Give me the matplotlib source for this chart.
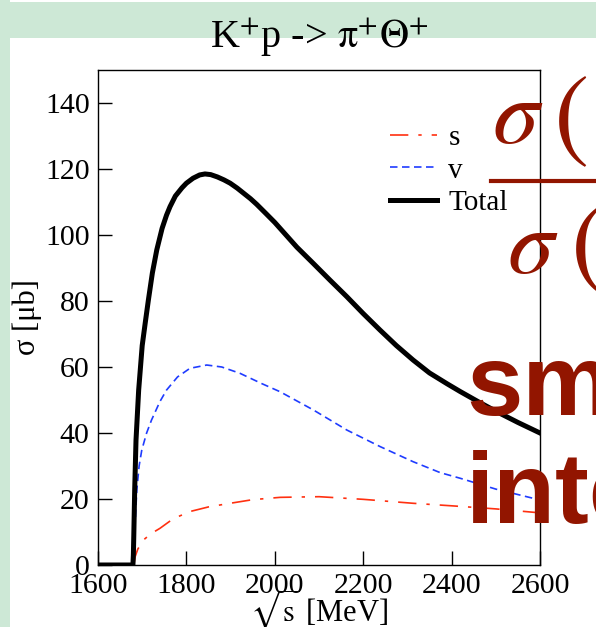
import matplotlib
matplotlib.use('Agg')
import matplotlib.pyplot as plt
from matplotlib.patches import Rectangle
from matplotlib.lines import Line2D

plt.rcParams['font.family'] = ['Liberation Serif', 'DejaVu Serif']
plt.rcParams['mathtext.fontset'] = 'stix'

# values (sqrt(s) in MeV, sigma in mub)
total_x = [1600, 1679, 1680, 1681, 1683, 1686, 1692, 1700, 1707, 1714, 1723, 1733,
           1745, 1755, 1763, 1775, 1790, 1800, 1815, 1830, 1842, 1855, 1870, 1885,
           1899, 1915, 1930, 1945, 1959, 1980, 2000, 2012, 2050, 2087, 2125, 2163,
           2200, 2238, 2275, 2313, 2350, 2390, 2419, 2460, 2500, 2550, 2600]
total_y = [0, 0, 3, 9, 22.7, 37.9, 53, 66.5, 73.5, 80.3, 88.5, 95.5,
           102, 106, 108.6, 111.8, 114.3, 115.7, 117.2, 118.2, 118.5, 118.3, 117.6, 116.7,
           115.7, 114.2, 112.6, 111.0, 109.3, 106.5, 103.8, 102, 96.3, 91.4, 86.3, 81.3,
           76.2, 71.2, 66.5, 62.1, 58.2, 54.9, 52.6, 49.5, 46.6, 43.2, 40]

v_x = [1681, 1683, 1686, 1688, 1693, 1699, 1710, 1721, 1740, 1755, 1780, 1808,
       1846, 1880, 1921, 1970, 2012, 2087, 2163, 2238, 2313, 2374, 2419, 2500, 2600]
v_y = [0, 10, 18, 23, 30, 34.8, 40, 43.9, 49.5, 53, 57, 59.6,
       60.6, 60, 58.1, 55, 52.5, 47, 40.9, 35.9, 31.3, 28, 26.3, 23, 19.7]

s_x = [1681, 1684, 1690, 1703, 1720, 1740, 1770, 1808, 1850, 1899, 1950, 2012,
       2100, 2200, 2313, 2404, 2500, 2600]
s_y = [0, 2.5, 4.8, 7.6, 9.5, 11.1, 14, 16.2, 17.6, 18.7, 19.8, 20.5,
       20.7, 19.9, 18.7, 17.9, 17, 15.8]

x_ticks = [1600, 1800, 2000, 2200, 2400, 2600]
y_ticks = [0, 20, 40, 60, 80, 100, 120, 140]

W, H = 596, 627
green = '#cde8d6'
darkred = '#921500'

fig = plt.figure(figsize=(W / 100, H / 100), dpi=100)
fig.patch.set_facecolor('white')

# slide background: top band and left strip
fig.add_artist(Rectangle((0, 1 - 38 / H), 1, 36 / H, transform=fig.transFigure,
                         facecolor=green, edgecolor='none', zorder=0))
fig.add_artist(Rectangle((0, 0), 10 / W, 1, transform=fig.transFigure,
                         facecolor=green, edgecolor='none', zorder=0))

ax = fig.add_axes([98 / W, 1 - 565 / H, (540 - 98) / W, (565 - 70) / H])
ax.plot(s_x, s_y, color='#ff3010', lw=1.2, linestyle=(0, (11, 6, 2, 6)), label='s')
ax.plot(v_x, v_y, color='#1f3cff', lw=1.2, linestyle=(0, (4.5, 2.7)), label='v')
ax.plot(total_x, total_y, color='black', lw=3.6, label='Total',
        solid_joinstyle='round')

ax.set_xlim(1600, 2600)
ax.set_ylim(0, 150)
ax.set_xticks(x_ticks)
ax.set_yticks(y_ticks)
ax.tick_params(direction='in', length=10, width=1, labelsize=21.5, top=False, right=False)
ax.tick_params(axis='x', pad=6)
ax.tick_params(axis='y', pad=6)
for sp in ax.spines.values():
    sp.set_linewidth(1)

ax.set_xlabel(r'$\sqrt{\mathrm{s}}$ [MeV]', fontsize=22, labelpad=-9)
ax.set_ylabel('σ [μb]', fontsize=22, labelpad=2)

ax.legend(loc='upper left', bbox_to_anchor=(390 / W, 1 - 125 / H),
          bbox_transform=fig.transFigure, frameon=False, fontsize=21,
          handlelength=1.6, handletextpad=0.4, labelspacing=0.2,
          borderpad=0, borderaxespad=0)

fig.text(319 / W, 1 - 48 / H, r'K$^{+}$p -> $\mathrm{\pi}^{+}\Theta^{+}$',
         fontsize=29, ha='center', va='baseline')

# overlaid slide text (cut at the right edge)
fig.text(492 / W, 1 - 143 / H, r'$\sigma$', fontsize=67, color=darkred,
         ha='left', va='baseline')
fig.text(553 / W, 1 - 148 / H, r'$($', fontsize=76, color=darkred,
         ha='left', va='baseline')
fig.add_artist(Line2D([491 / W, 1], [1 - 181 / H, 1 - 181 / H], transform=fig.transFigure,
                      color=darkred, lw=3))
fig.text(507 / W, 1 - 273 / H, r'$\sigma$', fontsize=67, color=darkred,
         ha='left', va='baseline')
fig.text(570 / W, 1 - 276 / H, r'$($', fontsize=76, color=darkred,
         ha='left', va='baseline')
fig.text(466 / W, 1 - 415 / H, 'sm', fontsize=73, color=darkred, fontweight='bold',
         family='Liberation Sans', ha='left', va='baseline')
fig.text(466 / W, 1 - 523 / H, 'inte', fontsize=73, color=darkred, fontweight='bold',
         family='Liberation Sans', ha='left', va='baseline')

fig.savefig('out.png', dpi=100)
